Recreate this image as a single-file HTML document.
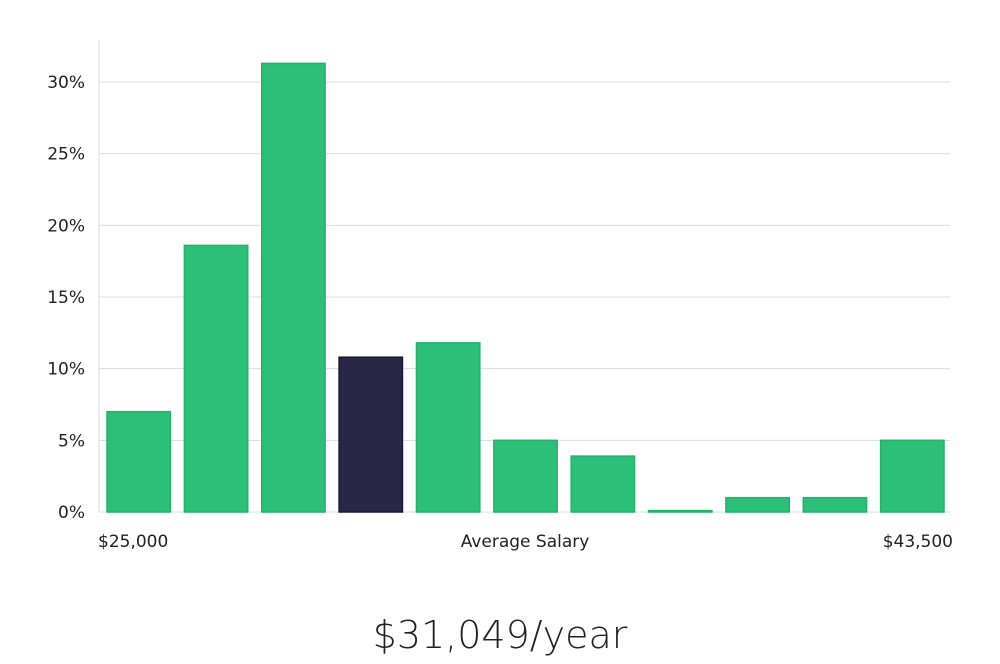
<!DOCTYPE html>
<html><head><meta charset="utf-8"><style>
html,body{margin:0;padding:0;background:#fff;}
body{width:1000px;height:660px;overflow:hidden;font-family:"DejaVu Sans","Liberation Sans",sans-serif;}
</style></head><body>
<svg id="chart" width="1000" height="660" xmlns="http://www.w3.org/2000/svg"></svg>
<script>
const categories=["b1","b2","b3","b4","b5","b6","b7","b8","b9","b10","b11"];
const values=[7,18.6,31.3,10.8,11.8,5,3.9,0.1,1,1,5];
const highlight=[false,false,false,true,false,false,false,false,false,false,false];
const yTicks=[0,5,10,15,20,25,30];
const yTickLabels=["0%","5%","10%","15%","20%","25%","30%"];
const xLabels=["$25,000","Average Salary","$43,500"];
const titleText="$31,049/year";

const NS="http://www.w3.org/2000/svg";
const svg=document.getElementById('chart');
const x0=99,x1=950,yBase=512,pxPer=(512-82)/30;
const y=v=>yBase-v*pxPer;
const step=(x1-x0)/categories.length;
function mk(t,a){const e=document.createElementNS(NS,t);for(const k in a)e.setAttribute(k,a[k]);svg.appendChild(e);return e;}
yTicks.forEach((t,i)=>{
  if(t>0){const g=mk('line',{x1:x0,x2:x1,y1:y(t),y2:y(t),stroke:'#dcdcdc','stroke-width':1});
  
  }
  const l=mk('text',{x:85,y:y(t)+6,'text-anchor':'end','font-size':17,fill:'#222'});
  l.textContent=yTickLabels[i];
  
  
});
const ax=mk('line',{x1:x0,x2:x0,y1:40,y2:yBase,stroke:'#dcdcdc','stroke-width':1});


const bx=mk('line',{x1:x0,x2:x1,y1:yBase,y2:yBase,stroke:'#dcdcdc','stroke-width':1});


values.forEach((v,i)=>{
  const bx0=x0+i*step+8,w=step-14;
  const top=y(v);
  const r=mk('rect',{x:bx0,y:top,width:w,height:Math.max(yBase-top,1),fill:highlight[i]?'#2a2646':'#2bbf77',stroke:highlight[i]?'#1a1638':'#22b36b','stroke-width':1.5});
  
  
});
const pos=[[98,'start'],[525,'middle'],[953,'end']];
xLabels.forEach((t,i)=>{
  const l=mk('text',{x:pos[i][0],y:547,'text-anchor':pos[i][1],'font-size':17,fill:'#222'});
  l.textContent=t;
  
  
});
const tt=mk('text',{x:500,y:648,'text-anchor':'middle','font-size':38,fill:'#222','font-weight':300});
tt.textContent=titleText;


</script>
</body></html>
